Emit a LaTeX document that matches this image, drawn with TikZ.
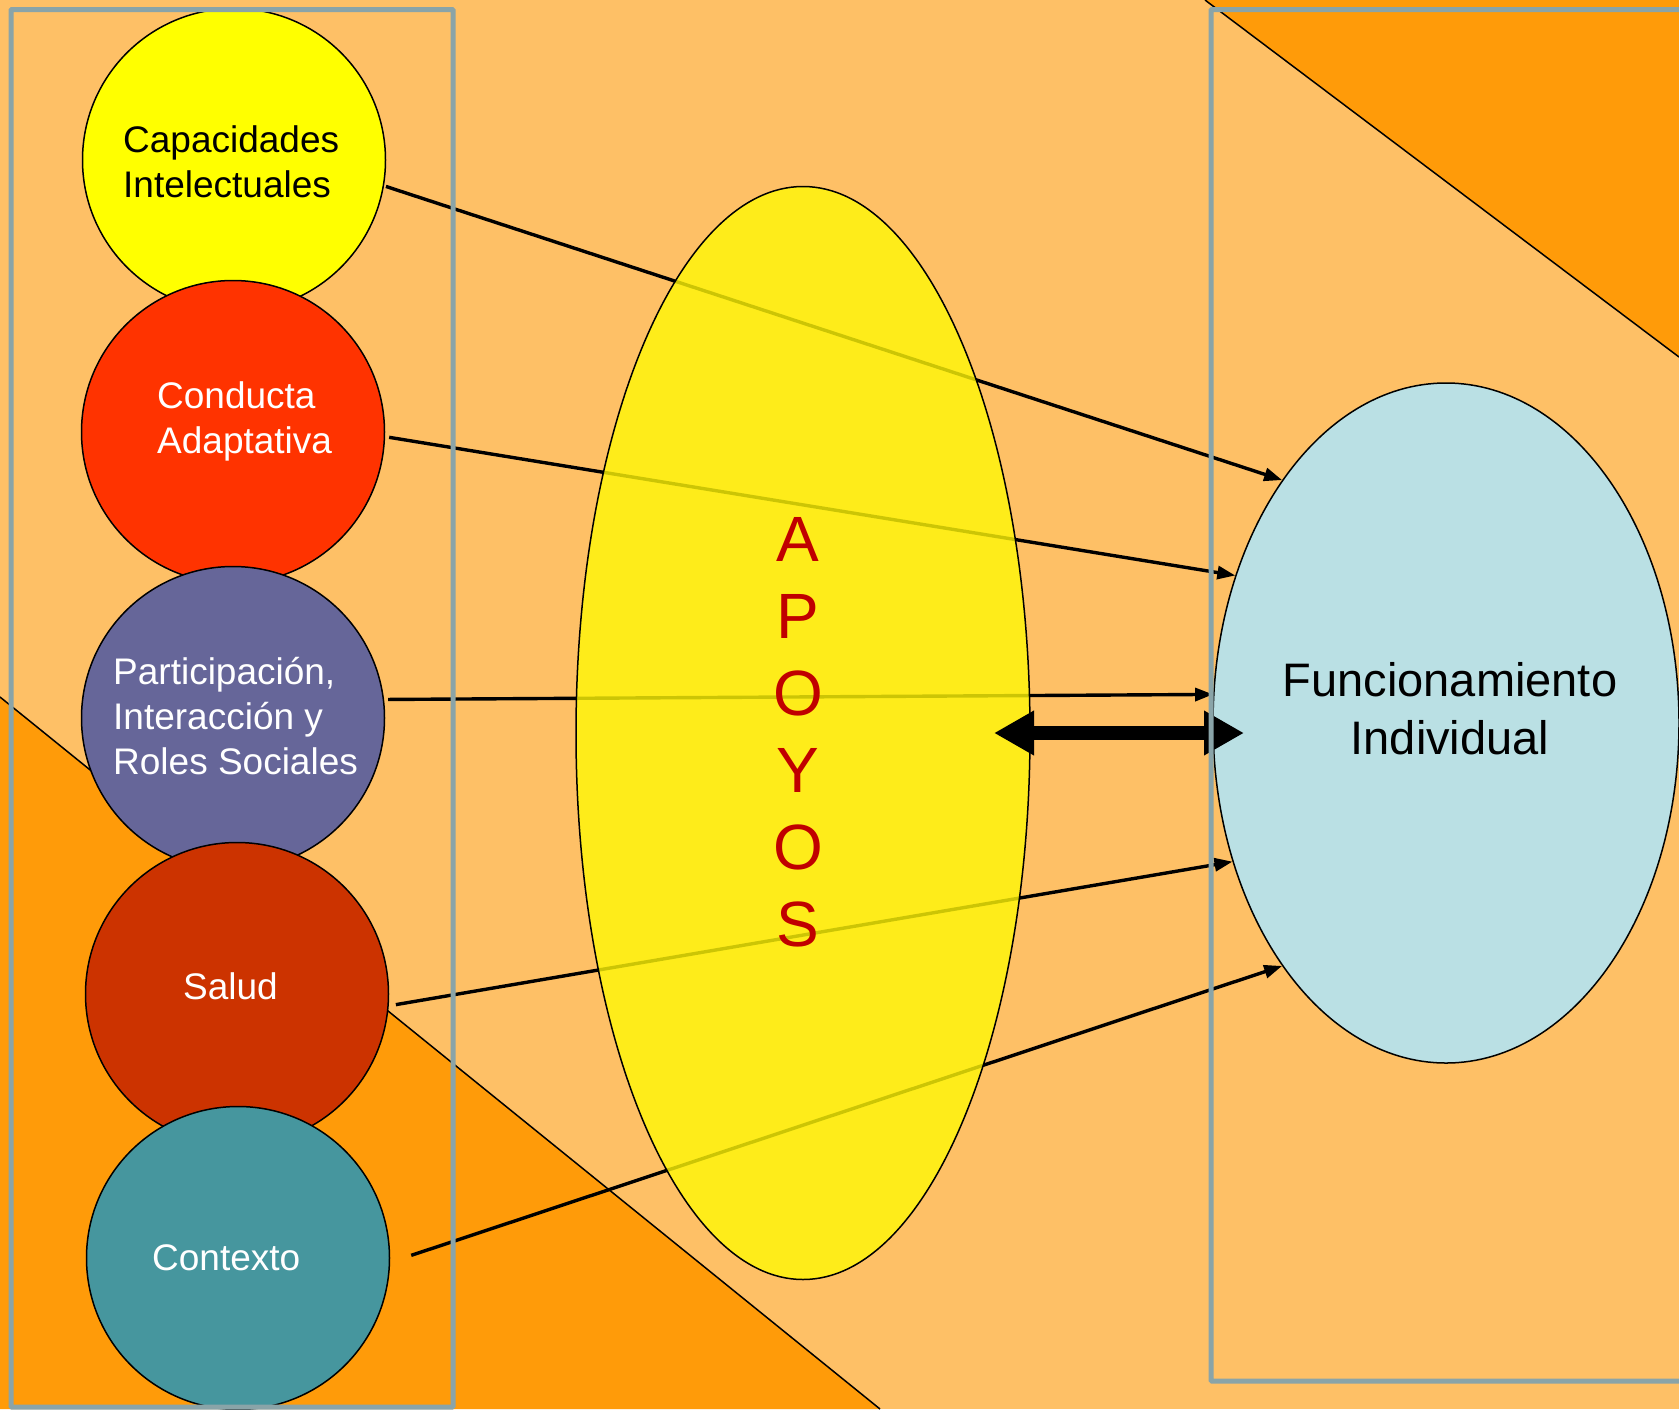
\documentclass[tikz,border=0pt]{standalone}
\usepackage{fontspec}
\setmainfont{Liberation Sans}
\usetikzlibrary{arrows.meta,shapes.geometric}
\definecolor{bgc}{RGB}{254,192,102}
\definecolor{trc}{RGB}{255,155,9}
\definecolor{framec}{RGB}{138,164,168}
\definecolor{c1c}{RGB}{255,255,0}
\definecolor{c2c}{RGB}{255,51,0}
\definecolor{c3c}{RGB}{102,102,153}
\definecolor{c4c}{RGB}{204,51,0}
\definecolor{c5c}{RGB}{70,150,158}
\definecolor{apc}{RGB}{255,247,7}
\definecolor{fc}{RGB}{186,224,228}
\definecolor{apt}{RGB}{192,0,0}
\begin{document}
\begin{tikzpicture}[x=1pt,y=-1pt,
  circ/.style={circle,draw=black,line width=1.5pt,minimum size=303pt,inner sep=0pt},
  lbl/.style={inner sep=0pt,align=left,font=\fontsize{37}{45}\selectfont},
  conn/.style={line width=3.4pt,-{Triangle[length=18pt,width=13pt]}},
  frm/.style={draw=framec,line width=5pt,rounded corners=1pt},
  diag/.style={draw=black,line width=1.5pt},
  bigarrow/.style={line width=14pt,{Triangle[length=40pt,width=42pt]}-{Triangle[length=40pt,width=42pt]}}]
\useasboundingbox (0,0) rectangle (1679,1409);
\clip (0,0) rectangle (1679,1409);
% background
\fill[bgc] (0,0) rectangle (1679,1409);
% triangles
\fill[trc] (0,697) -- (880,1409) -- (0,1409) -- cycle;
\draw[diag] (0,697) -- (880,1409);
\fill[trc] (1205,0) -- (1679,357) -- (1679,0) -- cycle;
\draw[diag] (1205,0) -- (1679,357);
% circles
\node[circ,fill=c1c] (c1) at (234,160) {};
\node[circ,fill=c2c] (c2) at (233,432) {};
\node[circ,fill=c3c] (c3) at (233,718) {};
\node[circ,fill=c4c] (c4) at (237,994) {};
\node[circ,fill=c5c] (c5) at (238,1258) {};
% circle labels
\node[lbl,anchor=west] (t1) at (123,162) {Capacidades\\Intelectuales};
\node[lbl,text=white,anchor=west] (t2) at (157,421) {Conducta\\Adaptativa};
\node[lbl,text=white,anchor=west] (t3) at (113,716) {Participación,\\Interacción y\\Roles Sociales};
\node[lbl,text=white,anchor=base west] (t4) at (183,999) {Salud};
\node[lbl,text=white,anchor=base west] (t5) at (152,1270) {Contexto};
% Funcionamiento
\node[ellipse,draw=black,line width=1.5pt,fill=fc,minimum width=466pt,minimum height=680pt,inner sep=0pt] (f) at (1446,723) {};
\node[inner sep=0pt,align=center,font=\fontsize{47}{58}\selectfont] (ft) at (1450,709) {Funcionamiento\\Individual};
% connectors
\draw[conn] ([xshift=2pt]c1.-10) -- (f.124.3);
\draw[conn] ([xshift=4pt]c2.-2) -- (f.145.9);
\draw[conn] ([xshift=4pt]c3.7) -- (f.173.5);
\draw[conn] ([xshift=7pt]c4.-4) -- (f.213.6);
\draw[conn] ([xshift=21pt]c5.1) -- (f.236.4);
% APOYOS ellipse
\node[ellipse,draw=black,line width=1.5pt,fill=apc,fill opacity=0.8,minimum width=454pt,minimum height=1093pt,inner sep=0pt] (a) at (803,733) {};
\node[inner sep=0pt,align=center,text=apt,font=\fontsize{64}{77}\selectfont] (at) at (798,732) {A\\P\\O\\Y\\O\\S};
% double arrow
\coordinate (d1) at (994,733);
\coordinate (d2) at (1244,733);
\draw[bigarrow] (d1) -- (d2);
% frames
\draw[frm] (11,9.5) rectangle (453,1407);
\draw[frm] (1211,9.5) rectangle (1700,1381);
\end{tikzpicture}
\end{document}
